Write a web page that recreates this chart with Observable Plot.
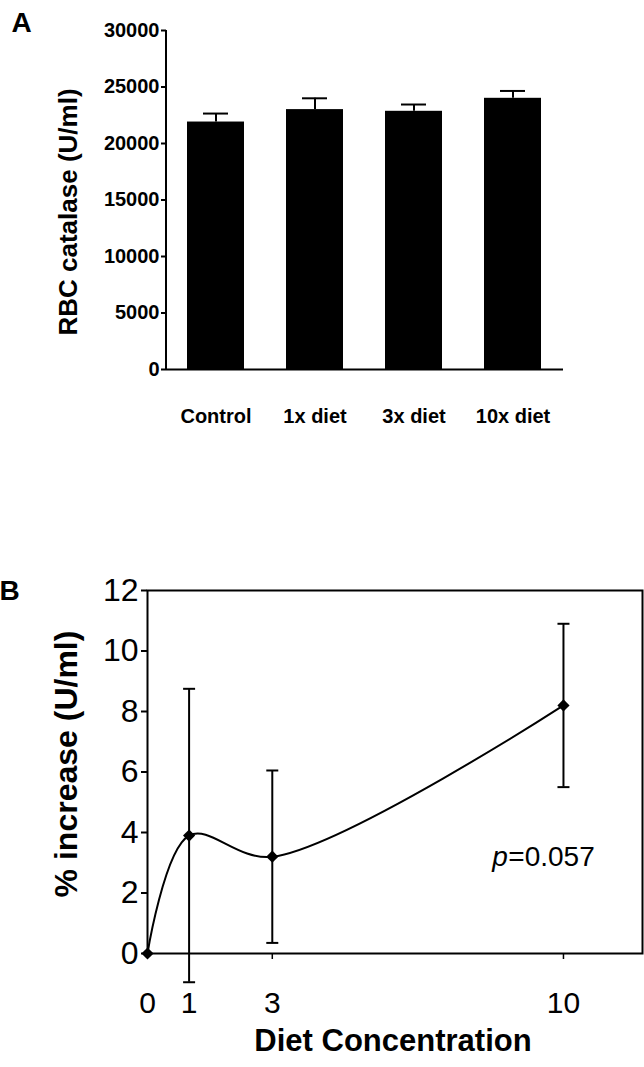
<!DOCTYPE html>
<html><head><meta charset="utf-8">
<script src="https://cdn.jsdelivr.net/npm/d3@7"></script>
<script src="https://cdn.jsdelivr.net/npm/@observablehq/plot@0.6"></script>
<style>
html,body{margin:0;padding:0;background:#fff;}
#wrap{width:644px;height:1067px;position:relative;overflow:hidden;background:#fff;}
#a{position:absolute;left:0;top:0;}
#b{position:absolute;left:0;top:560px;}
svg{display:block;}
</style></head><body><div id="wrap"><div id="a"></div><div id="b"></div></div>
<script>
// ---- Panel A data ----
const groups = ["Control", "1x diet", "3x diet", "10x diet"];
const catalase = [21900, 23000, 22850, 24000];
const catalaseErr = [750, 1000, 600, 650];
const yTicksA = [0, 5000, 10000, 15000, 20000, 25000, 30000];
const yLabelA = "RBC catalase (U/ml)";
const panelA = "A";

// ---- Panel B data ----
const conc = [0, 1, 3, 10];
const pct = [0, 3.9, 3.2, 8.2];
const pctErr = [null, 4.85, 2.85, 2.7];
const yTicksB = [0, 2, 4, 6, 8, 10, 12];
const xMinorB = [3, 10];
const yLabelB = "% increase (U/ml)";
const xLabelB = "Diet Concentration";
const panelB = "B";
const pNote = {conc: 8.29, pct: 3.2, sym: "p", rest: "=0.057"};

const font = '"Liberation Sans", Arial, Helvetica, sans-serif';

const dataA = groups.map((g, i) => ({group: g, value: catalase[i], hi: catalase[i] + catalaseErr[i]}));

const plotA = Plot.plot({
  width: 644, height: 560,
  marginLeft: 166, marginRight: 81, marginTop: 30, marginBottom: 191,
  style: {fontFamily: font, color: "#000", background: "#fff", overflow: "visible"},
  x: {domain: groups, paddingInner: 0.42, paddingOuter: 0.21, axis: null},
  y: {domain: [0, 30000], axis: null},
  marks: [
    Plot.barY(dataA, {x: "group", y: "value", fill: "black"}),
    Plot.ruleX(dataA, {x: "group", y1: "value", y2: "hi", stroke: "black", strokeWidth: 2}),
    Plot.tickY(dataA, {x: "group", y: "hi", stroke: "black", strokeWidth: 2, insetLeft: 16, insetRight: 16}),
    Plot.ruleY([0], {stroke: "black", strokeWidth: 2}),
    Plot.axisY({ticks: yTicksA, tickSize: 5, tickPadding: 2, fontSize: 20, fontWeight: "bold", tickFormat: "d", strokeWidth: 2, label: null}),
    Plot.axisX({tickSize: 0, tickPadding: 39, fontSize: 20, fontWeight: "bold", label: null}),
    Plot.text([yLabelA], {text: d => d, frameAnchor: "left", dx: -98, dy: 12, rotate: -90, textAnchor: "middle", lineAnchor: "middle", fontSize: 26, fontWeight: "bold"}),
    Plot.text([panelA], {text: d => d, frameAnchor: "top-left", dx: -145, dy: -7, textAnchor: "middle", lineAnchor: "middle", fontSize: 28, fontWeight: "bold"})
  ]
});
// left axis line of panel A, drawn from Plot's own y scale
{
  const ys = plotA.scale("y");
  d3.select(plotA).append("line")
    .attr("x1", 166).attr("x2", 166)
    .attr("y1", ys.apply(ys.domain[0]) + 1).attr("y2", ys.apply(ys.domain[1]))
    .attr("stroke", "black").attr("stroke-width", 2);
}
document.getElementById("a").appendChild(plotA);

const dataB = conc.map((c, i) => ({conc: c, pct: pct[i], err: pctErr[i]}));
const errB = dataB.filter(d => d.err != null).map(d => ({conc: d.conc, lo: d.pct - d.err, hi: d.pct + d.err}));
const cap = {draw(ctx, size) { const r = Math.sqrt(size / Math.PI); ctx.moveTo(-r, 0); ctx.lineTo(r, 0); }};

const plotB = Plot.plot({
  width: 644, height: 507,
  marginLeft: 147, marginRight: 2, marginTop: 30, marginBottom: 114,
  style: {fontFamily: font, color: "#000", background: "#fff", overflow: "visible"},
  x: {domain: [0, 11.9], axis: null},
  y: {domain: [0, 12], axis: null},
  marks: [
    Plot.frame({stroke: "black", strokeWidth: 2}),
    Plot.ruleX(errB, {x: "conc", y1: "lo", y2: "hi", stroke: "black", strokeWidth: 2}),
    Plot.dot(errB, {x: "conc", y: "lo", symbol: cap, r: 6, stroke: "black", fill: "none", strokeWidth: 2}),
    Plot.dot(errB, {x: "conc", y: "hi", symbol: cap, r: 6, stroke: "black", fill: "none", strokeWidth: 2}),
    Plot.line(dataB, {x: "conc", y: "pct", curve: "catmull-rom", stroke: "black", strokeWidth: 2}),
    Plot.dot(dataB, {x: "conc", y: "pct", symbol: "diamond2", r: 5.5, fill: "black", stroke: "none"}),
    Plot.axisY({ticks: yTicksB, tickSize: 6, tickPadding: 3, fontSize: 32, strokeWidth: 2, label: null}),
    Plot.axisX({ticks: conc, tickSize: 0, tickPadding: 38, fontSize: 30, label: null}),
    Plot.axisX({ticks: xMinorB, tickSize: 6, tickFormat: () => "", strokeWidth: 1.5, label: null}),
    Plot.text([pNote], {x: "conc", y: "pct", text: "sym", fontStyle: "italic", fontSize: 28, textAnchor: "start"}),
    Plot.text([pNote], {x: "conc", y: "pct", text: "rest", fontSize: 28, textAnchor: "start", dx: 16}),
    Plot.text([yLabelB], {text: d => d, frameAnchor: "left", dx: -81, dy: -8, rotate: -90, textAnchor: "middle", lineAnchor: "middle", fontSize: 32, fontWeight: "bold"}),
    Plot.text([xLabelB], {text: d => d, frameAnchor: "bottom", dy: 88, dx: -2, textAnchor: "middle", lineAnchor: "middle", fontSize: 31, fontWeight: "bold"}),
    Plot.text([panelB], {text: d => d, frameAnchor: "top-left", dx: -138, dy: 1, textAnchor: "middle", lineAnchor: "middle", fontSize: 28, fontWeight: "bold"})
  ]
});
document.getElementById("b").appendChild(plotB);
</script>
</body></html>
